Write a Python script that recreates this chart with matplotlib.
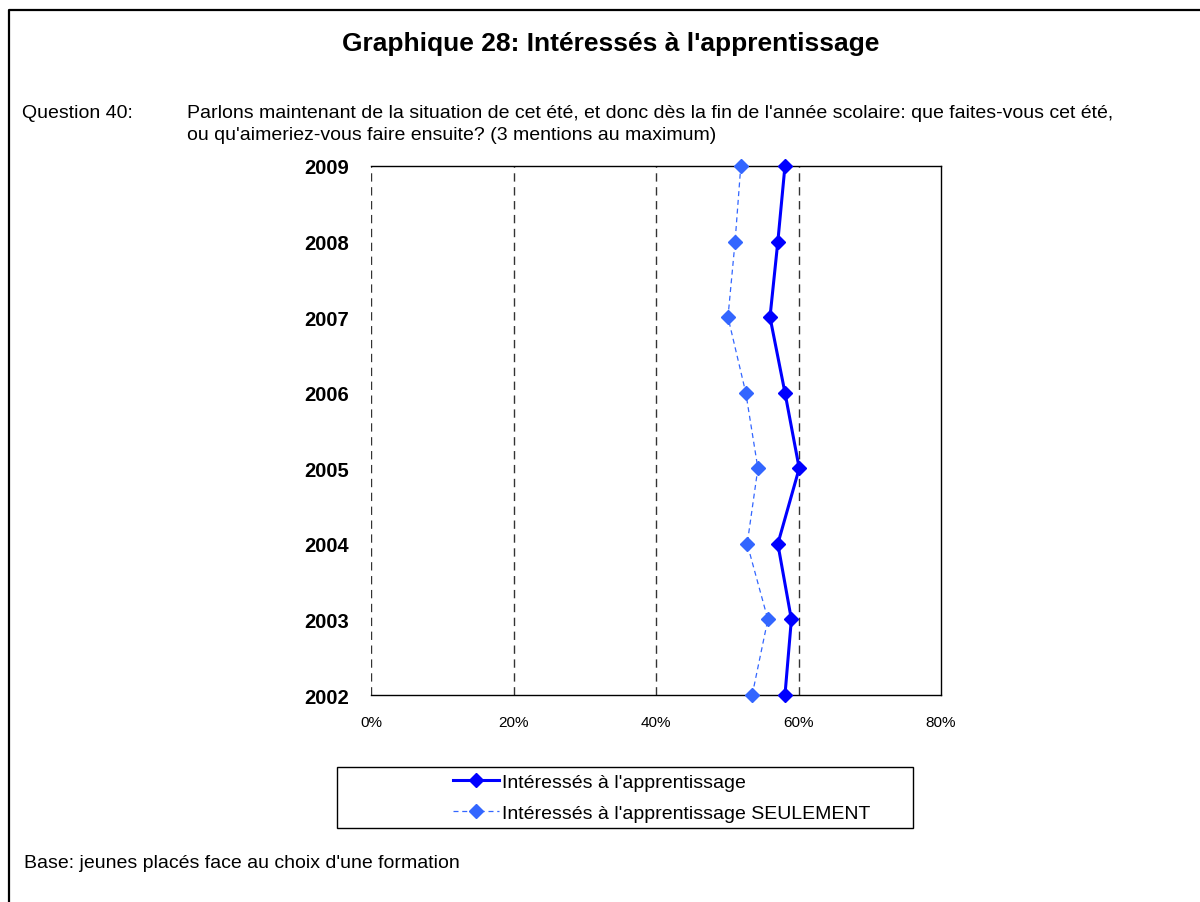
import matplotlib
matplotlib.use("Agg")
import matplotlib.pyplot as plt
from matplotlib.lines import Line2D
from matplotlib.patches import Rectangle

plt.rcParams['font.family'] = ['Liberation Sans', 'DejaVu Sans']

years = ['2002', '2003', '2004', '2005', '2006', '2007', '2008', '2009']
interesses = [58.1, 59.0, 57.1, 60.1, 58.1, 56.0, 57.1, 58.1]
seulement = [53.5, 55.7, 52.8, 54.3, 52.6, 50.1, 51.1, 51.9]
xticks = [0, 20, 40, 60, 80]
xticklabels = ['0%', '20%', '40%', '60%', '80%']
label1 = "Intéressés à l'apprentissage"
label2 = "Intéressés à l'apprentissage SEULEMENT"

W, H = 1200, 903
fig = plt.figure(figsize=(W / 100, H / 100), dpi=100)

def fx(px):
    return px / W

def fy(py):
    return 1 - py / H

# outer border (left + top)
fig.add_artist(Line2D([fx(9), fx(9), fx(1200)], [fy(903), fy(11), fy(11)],
                      color='black', lw=1.6, transform=fig.transFigure))

fig.text(fx(611), fy(44), "Graphique 28: Intéressés à l'apprentissage",
         ha='center', va='center', fontsize=19, fontweight='bold')
fig.text(fx(22), fy(114), "Question 40:", ha='left', va='center', fontsize=14)
fig.text(fx(187), fy(114),
         "Parlons maintenant de la situation de cet été, et donc dès la fin de l'année scolaire: que faites-vous cet été,",
         ha='left', va='center', fontsize=14)
fig.text(fx(187), fy(135), "ou qu'aimeriez-vous faire ensuite? (3 mentions au maximum)",
         ha='left', va='center', fontsize=14)
fig.text(fx(24), fy(864), "Base: jeunes placés face au choix d'une formation",
         ha='left', va='center', fontsize=14)

ax = fig.add_axes([fx(371), fy(696), fx(941) - fx(371), (696 - 167) / H])
y = list(range(len(years)))
ax.plot(interesses, y, color='#0000FF', lw=2.2, marker='D', ms=7.6,
        label=label1, zorder=4, clip_on=False)
ax.plot(seulement, y, color='#3366FF', lw=0.9, ls=(0, (4, 3)), marker='D', ms=7.3,
        label=label2, zorder=3, clip_on=False)

ax.set_xlim(0, 80)
ax.set_ylim(0, len(years) - 1)
for xv in xticks[:-1]:
    ax.axvline(xv, color='#333333', lw=1, ls=(0, (6, 4)), zorder=1)
ax.set_xticks(xticks)
ax.set_xticklabels(xticklabels, fontsize=11)
ax.set_yticks(y)
ax.set_yticklabels(years, fontsize=14.5, fontweight='bold')
ax.tick_params(axis='x', length=0, pad=14.5)
ax.tick_params(axis='y', length=0, pad=16)
ax.spines['left'].set_visible(False)
for s in ['top', 'right', 'bottom']:
    ax.spines[s].set_color('black')
    ax.spines[s].set_linewidth(1)

# legend box
fig.add_artist(Rectangle((fx(337), fy(829)), fx(913) - fx(337), (829 - 768) / H,
                         transform=fig.transFigure, fill=False, ec='black', lw=1))
h, l = ax.get_legend_handles_labels()
leg = fig.legend(h, l, loc='upper left', bbox_to_anchor=(fx(453), fy(774)),
                 frameon=False, fontsize=14, handlelength=2.35, handletextpad=0.15,
                 labelspacing=0.72, borderpad=0, borderaxespad=0)

fig.savefig('out.png', dpi=100)
